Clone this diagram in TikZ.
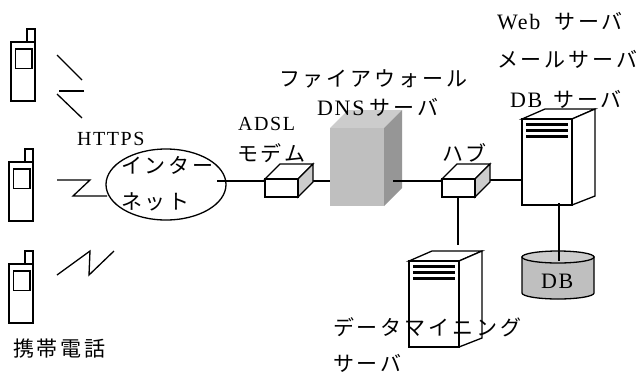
\documentclass[tikz,border=0pt]{standalone}
\usepackage{fontspec}
\setmainfont[LetterSpace=8]{Liberation Serif}
\newfontfamily\jp[LetterSpace=14]{Noto Sans CJK JP}
\usetikzlibrary{shapes.geometric}
\tikzset{
  ln/.style={draw=black,line width=1.3pt,line join=miter},
  thin ln/.style={draw=black,line width=1.2pt},
  lbl/.style={anchor=base west,inner sep=0pt,outer sep=0pt,font=\fontsize{20}{20}\selectfont},
  jplbl/.style={lbl,font=\fontsize{21}{21}\selectfont\jp},
  biglbl/.style={lbl,font=\fontsize{22}{22}\selectfont},
  phone part/.style={ln,fill=white},
}
\newcommand{\jpmid}[1]{{\fontsize{21}{21}\selectfont\jp #1}}
\newcommand{\phonedraw}[2]{% x y
  \begin{scope}[shift={(#1,#2)}]
    \draw[phone part] (16,0) rectangle (24,13);
    \draw[phone part] (0,13) rectangle (24,72);
    \draw[phone part] (4.5,20) rectangle (21,39.5);
  \end{scope}}
\newcommand{\boxdraw}[2]{% x y of front top-left
  \begin{scope}[shift={(#1,#2)}]
    \draw[ln,fill=white] (0,0) -- (15,-15) -- (48,-15) -- (33,0) -- cycle;
    \draw[ln,fill=black!20] (33,0) -- (48,-15) -- (48,3) -- (33,18) -- cycle;
    \draw[ln,fill=white] (0,0) rectangle (33,18);
  \end{scope}}
\newcommand{\serverdraw}[2]{% x y of front top-left
  \begin{scope}[shift={(#1,#2)}]
    \draw[ln,fill=white] (0,0) -- (23,-10) -- (73,-10) -- (50,0) -- cycle;
    \draw[ln,fill=white] (50,0) -- (73,-10) -- (73,77) -- (50,86) -- cycle;
    \draw[ln,fill=white] (0,0) rectangle (50,86);
    \fill[black] (4,3.5) rectangle (46,6.5);
    \fill[black] (4,10) rectangle (46,13);
    \fill[black] (4,16) rectangle (46,19);
  \end{scope}}
\begin{document}
\begin{tikzpicture}[x=1pt,y=-1pt]
\useasboundingbox (0,0) rectangle (640,376);
\fill[white] (0,0) rectangle (640,376);
\phonedraw{11}{29}
\phonedraw{9}{149}
\phonedraw{9}{251}
% wireless marks
\draw[ln] (57,55) -- (82,80);
\draw[ln] (84,91) -- (59,91);
\draw[ln] (57,94) -- (82,118);
\draw[ln] (57,180) -- (90,180) -- (73,196) -- (107,196);
\draw[ln] (57,275) -- (90,251) -- (89,275) -- (114,251);
% firewall
\fill[black!20] (330,128) -- (348,110) -- (402,110) -- (384,128) -- cycle;
\fill[black!41] (384,128) -- (402,110) -- (402,188) -- (384,206) -- cycle;
\fill[black!25] (330,128) rectangle (384,206);
% connectors
\coordinate (netR) at (217,181);
\coordinate (modemL) at (266,181);
\coordinate (modemR) at (313,181);
\coordinate (fwL) at (330,181);
\coordinate (fwR) at (393,181);
\coordinate (hubL) at (442,181);
\coordinate (hubR) at (489,180);
\coordinate (srvL) at (522,180);
\coordinate (hubB) at (458,197);
\coordinate (minT) at (458,245);
\coordinate (srvB) at (559,203);
\coordinate (dbT) at (559,261);
\draw[thin ln] (netR) -- (modemL);
\draw[thin ln] (modemR) -- (fwL);
\draw[thin ln] (fwR) -- (hubL);
\draw[thin ln] (hubR) -- (srvL);
\draw[thin ln] (hubB) -- (minT);
\node[ellipse,draw=black,line width=1.3pt,minimum width=120pt,minimum height=71pt,inner sep=0pt] (net) at (166,184.5) {};
\boxdraw{265}{179}
\boxdraw{442}{179}
\serverdraw{522}{119}
\serverdraw{409}{261}
% DB cylinder
\draw[ln,fill=black!25] (522,257) -- (522,293) arc[start angle=180,end angle=360,x radius=36,y radius=-6] -- (594,257) -- cycle;
\draw[ln,fill=black!20] (558,257) ellipse[x radius=36,y radius=6];
\draw[thin ln] (srvB) -- (dbT);
% labels
\node[biglbl] (web) at (497,29) {Web\hspace{14pt}\jpmid{サーバ}};
\node[jplbl] (mail) at (497,67) {メールサーバ};
\node[biglbl] (dbs) at (510,107) {DB\hspace{11pt}\jpmid{サーバ}};
\node[jplbl] (fw) at (279,86.5) {ファイアウォール};
\node[biglbl] (dns) at (317,115) {DNS\hspace{5pt}\jpmid{サーバ}};
\node[lbl] (adsl) at (238,130) {ADSL};
\node[jplbl] (modem) at (237,161.5) {モデム};
\node[jplbl] (hub) at (442,161.5) {ハブ};
\node[lbl] (https) at (77,145) {HTTPS};
\node[jplbl] (inet1) at (121,173) {インター};
\node[jplbl] (inet2) at (121,209.5) {ネット};
\node[biglbl] (db) at (541,288) {DB};
\node[jplbl] (kt) at (13,356.5) {携帯電話};
\node[jplbl] (dm) at (333,335) {データマイニング};
\node[jplbl] (sv) at (333,371.5) {サーバ};
\end{tikzpicture}
\end{document}
